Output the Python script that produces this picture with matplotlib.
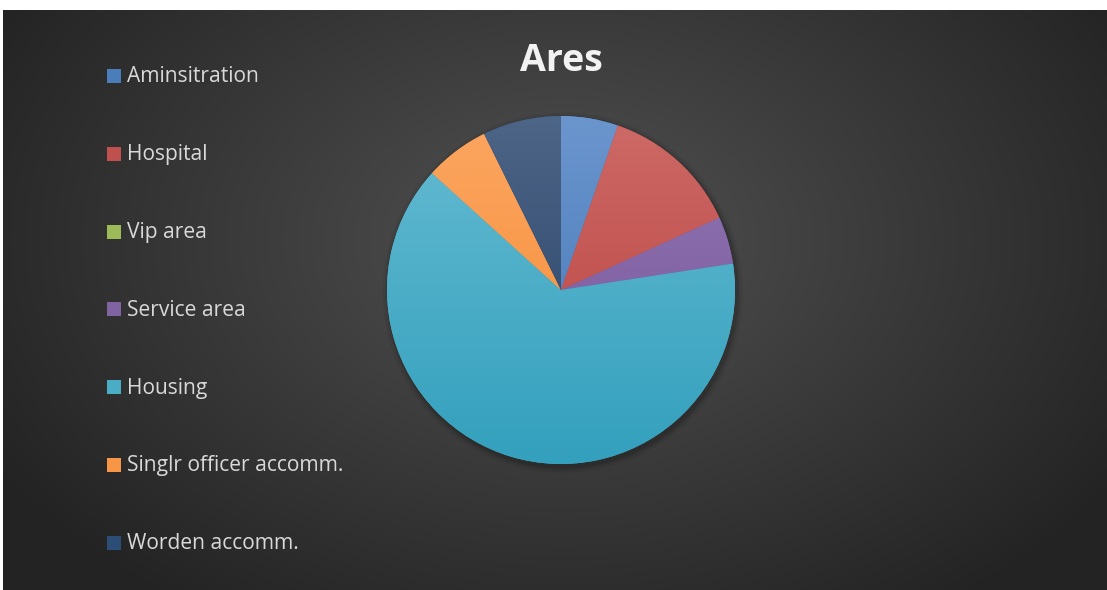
import numpy as np
import matplotlib.pyplot as plt
from matplotlib.colors import LinearSegmentedColormap
from matplotlib.patches import Rectangle

# Data
categories = ['Aminsitration', 'Hospital', 'Vip area', 'Service area',
              'Housing', 'Singlr officer accomm.', 'Worden accomm.']
shares = [5.3, 12.9, 0.0, 4.4, 64.2, 6.0, 7.3]

# top (light) / bottom (dark) colours of each slice gradient
top_colors = ['#6b95cd', '#cd6a67', '#a9c96b', '#9279b3', '#66bbd2', '#fca661', '#4d6586']
bot_colors = ['#3f74b5', '#b83e3b', '#8fb04b', '#744f99', '#33a0bd', '#f48a31', '#233f66']
legend_colors = ['#4a7ebb', '#c0504d', '#9bbb59', '#8064a2', '#4bacc6', '#f79646', '#2c4d75']

W, H = 1107, 590
fig = plt.figure(figsize=(W / 100, H / 100), dpi=100)
fig.patch.set_facecolor('white')

# dark radial gradient background
bg = fig.add_axes([3 / W, 0, (W - 3) / W, (H - 10) / H])
yy, xx = np.mgrid[0:580, 0:1104]
r = np.sqrt(((xx - 560) / 620.0) ** 2 + ((yy - 230) / 420.0) ** 2)
shade = np.clip(0.32 - 0.17 * r, 0.14, 0.32)
rgb = np.dstack([shade, shade, shade])
bg.imshow(rgb, aspect='auto', interpolation='bilinear')
bg.axis('off')

# pie, centred at (561, 290) px from top, radius 174 px
cx, cy, rad = 561, H - 290, 174
pad = 1.06
ax = fig.add_axes([(cx - rad * pad) / W, (cy - rad * pad) / H,
                   2 * rad * pad / W, 2 * rad * pad / H])
ax.set_facecolor('none')

# soft shadow
for k, a in zip([1.035, 1.02, 1.01], [0.06, 0.08, 0.10]):
    ax.add_patch(plt.Circle((0.01, -0.015), k, color='black', alpha=a, lw=0))

wedges, _ = ax.pie(shares, colors=legend_colors, startangle=90, counterclock=False,
                   radius=1.0, wedgeprops=dict(linewidth=0))
grad = np.linspace(0, 1, 256).reshape(-1, 1)
for w, c0, c1 in zip(wedges, top_colors, bot_colors):
    cm = LinearSegmentedColormap.from_list('g', [c0, c1])
    im = ax.imshow(grad, cmap=cm, extent=[-1, 1, -1, 1], aspect='auto',
                   interpolation='bilinear', zorder=w.get_zorder() + 0.1)
    im.set_clip_path(w)
ax.set_xlim(-pad, pad)
ax.set_ylim(-pad, pad)
ax.axis('off')

# title
fig.text(561 / W, 1 - 61 / H, 'Ares', ha='center', va='center',
         fontsize=27, fontweight='bold', color='#f2f2f2', family='Open Sans')

# legend
for i, (lab, col) in enumerate(zip(categories, legend_colors)):
    y = 77 + i * 77.8
    fig.patches.append(Rectangle((107 / W, 1 - (y + 6) / H), 14 / W, 14 / H,
                                 transform=fig.transFigure, facecolor=col, edgecolor='none'))
    fig.text(127 / W, 1 - y / H, lab, ha='left', va='center',
             fontsize=15.1, color='#d9d9d9', family='Open Sans')

fig.savefig('out.png', dpi=100, facecolor='white')
